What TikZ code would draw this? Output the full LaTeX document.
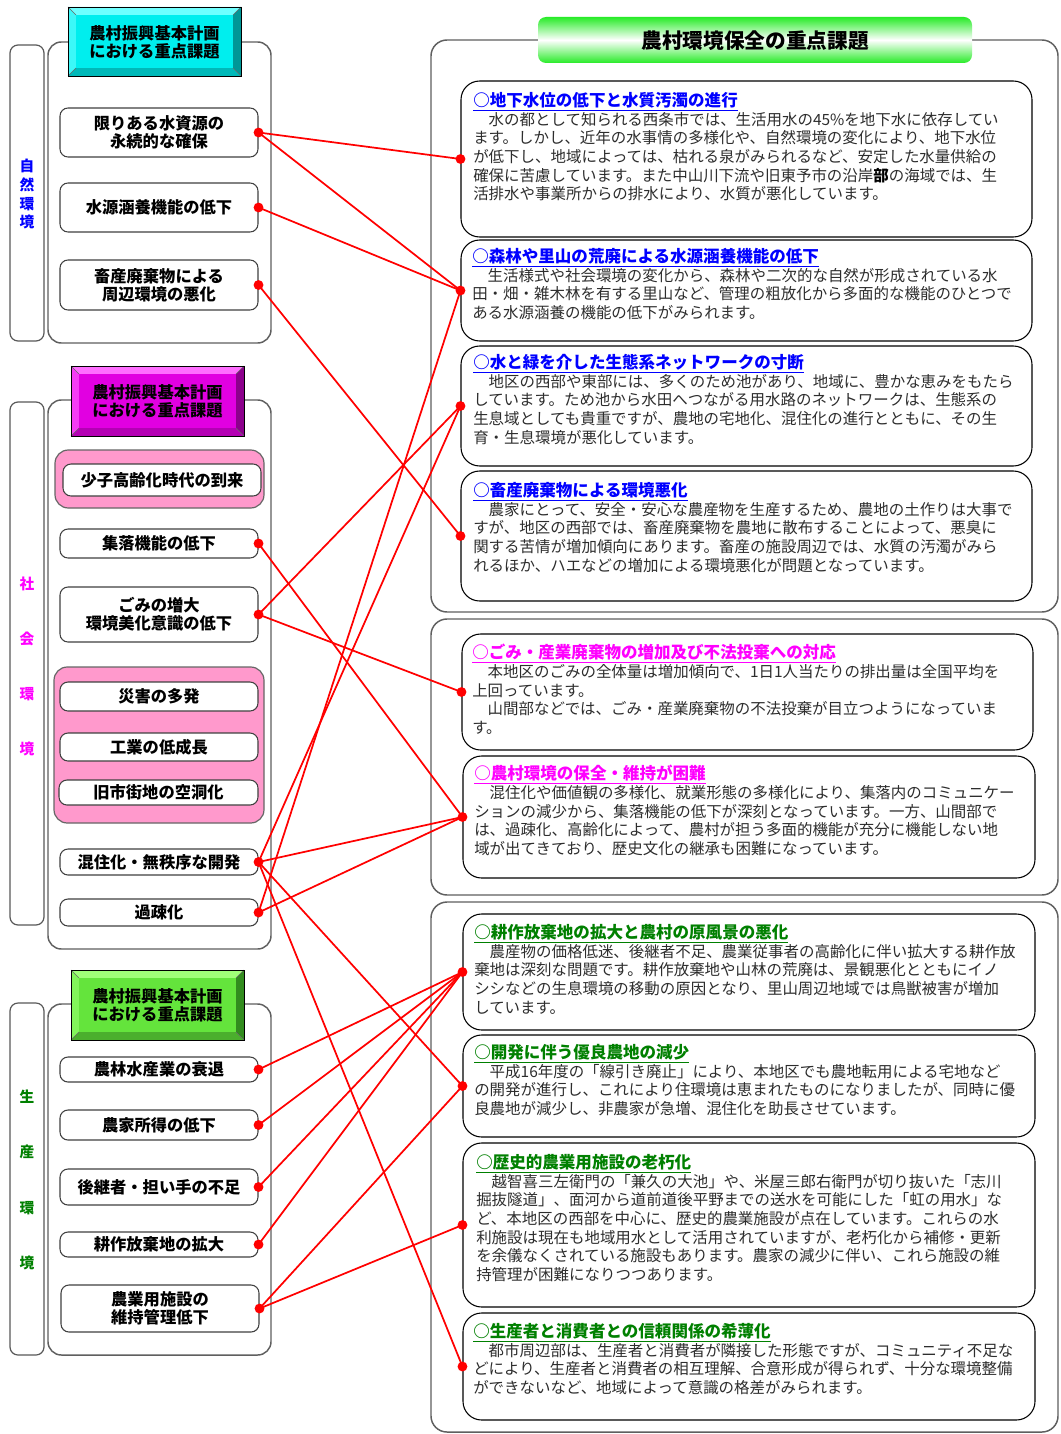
\documentclass[tikz,border=0pt]{standalone}
\usepackage{fontspec}
\setmainfont{Noto Sans CJK JP}
\usetikzlibrary{fit}
\definecolor{pinkc}{RGB}{255,153,204}
\definecolor{bodyc}{RGB}{45,45,45}
\definecolor{ttlblue}{RGB}{0,0,255}
\definecolor{ttlmag}{RGB}{255,0,255}
\definecolor{ttlgreen}{RGB}{0,128,0}
\definecolor{framec}{RGB}{95,95,95}
\definecolor{titleg}{RGB}{40,235,40}
% cyan bevel
\definecolor{cyF}{RGB}{0,238,238}
\definecolor{cyT}{RGB}{110,255,255}
\definecolor{cyL}{RGB}{60,248,248}
\definecolor{cyR}{RGB}{0,150,150}
\definecolor{cyB}{RGB}{0,185,185}
% magenta bevel
\definecolor{mgF}{RGB}{225,0,225}
\definecolor{mgT}{RGB}{255,110,255}
\definecolor{mgL}{RGB}{245,60,245}
\definecolor{mgR}{RGB}{140,0,140}
\definecolor{mgB}{RGB}{180,0,180}
% green bevel
\definecolor{grF}{RGB}{100,228,60}
\definecolor{grT}{RGB}{160,255,120}
\definecolor{grL}{RGB}{130,245,90}
\definecolor{grR}{RGB}{50,140,30}
\definecolor{grB}{RGB}{75,175,45}
\newcommand\mybevel[5]{%
 \fill[#5T] (#1,#2) -- (#3,#2) -- ({#3-8},{#2+8}) -- ({#1+8},{#2+8}) -- cycle;
 \fill[#5L] (#1,#2) -- ({#1+8},{#2+8}) -- ({#1+8},{#4-8}) -- (#1,#4) -- cycle;
 \fill[#5R] (#3,#2) -- (#3,#4) -- ({#3-8},{#4-8}) -- ({#3-8},{#2+8}) -- cycle;
 \fill[#5B] (#1,#4) -- (#3,#4) -- ({#3-8},{#4-8}) -- ({#1+8},{#4-8}) -- cycle;
 \fill[#5F] ({#1+8},{#2+8}) rectangle ({#3-8},{#4-8});
 \draw[black!60, line width=0.3pt] (#1,#2) -- ({#1+8},{#2+8}) (#3,#2) -- ({#3-8},{#2+8})
   (#1,#4) -- ({#1+8},{#4-8}) (#3,#4) -- ({#3-8},{#4-8});
 \draw[black, line width=0.6pt] (#1,#2) rectangle (#3,#4);
}
\newcommand\rtitle[2]{{\color{#1}\bfseries\fontsize{12.4}{14}\selectfont\underline{#2}}}
\begin{document}
\begin{tikzpicture}[x=0.75pt,y=-0.75pt,
  frame/.style={draw=framec, line width=1.1pt, rounded corners=10pt, fill=white, inner sep=0pt},
  vlab/.style={draw=black!65, line width=0.9pt, rounded corners=6pt, fill=white, inner sep=0pt},
  item/.style={draw=black!75, line width=0.8pt, rounded corners=6pt, fill=white, inner sep=0pt},
  itxt/.style={align=center, inner sep=0pt, font=\fontsize{12.2}{13.5}\selectfont\bfseries},
  pinkgrp/.style={draw=black!60, line width=0.9pt, rounded corners=10pt, fill=pinkc, inner sep=0pt},
  rbox/.style={draw=black, line width=0.8pt, rounded corners=14pt, fill=white, inner sep=0pt},
  rtext/.style={anchor=north west, inner sep=0pt, align=left, text=bodyc,
     font=\fontsize{11.6}{14}\selectfont},
  hdr/.style={align=center, inner sep=0pt, font=\fontsize{12.2}{13.5}\selectfont\bfseries},
  vtxt/.style={align=center, inner sep=0pt, font=\fontsize{11}{14.2}\selectfont\bfseries},
  conn/.style={draw=red, line width=1.3pt},
  dotc/.style={fill=red}
]
\useasboundingbox (0,0) rectangle (1060,1434);
\fill[white] (0,0) rectangle (1060,1434);

% ---------------- left column ----------------
% 自然環境
\node[vlab, fit={(10,45) (44,341)}] (V1) {};
\node[vtxt, text=ttlblue] (V1t) at (27,194) {自\\然\\環\\境};
\node[frame, fit={(48,42) (271,343)}] (F1) {};
\mybevel{68}{7}{241}{76}{cy}
\node[hdr] (H1) at (154.5,42) {農村振興基本計画\\における重点課題};
\node[item, fit={(60,108) (258,157)}] (L1) {};
\node[itxt] (L1t) at (L1.center) {限りある水資源の\\永続的な確保};
\node[item, fit={(60,183) (258,232)}] (L2) {};
\node[itxt] (L2t) at (L2.center) {水源涵養機能の低下};
\node[item, fit={(60,260) (258,310)}] (L3) {};
\node[itxt] (L3t) at (L3.center) {畜産廃棄物による\\周辺環境の悪化};

% 社会環境
\node[vlab, fit={(10,402) (44,925)}] (V2) {};
\node[vtxt, text=ttlmag, font=\fontsize{11}{41.25}\selectfont\bfseries] (V2t) at (27,666) {社\\会\\環\\境};
\node[frame, fit={(48,400) (271,949)}] (F2) {};
\mybevel{71}{366}{244}{436}{mg}
\node[hdr] (H2) at (157.5,401) {農村振興基本計画\\における重点課題};
\node[pinkgrp, fit={(55,450) (264,508)}] (P1) {};
\node[item, fit={(63,464) (261,496)}] (S1) {};
\node[itxt] (S1t) at (S1.center) {少子高齢化時代の到来};
\node[item, fit={(60,529) (258,558)}] (L4) {};
\node[itxt] (L4t) at (L4.center) {集落機能の低下};
\node[item, fit={(60,587) (258,642)}] (L5) {};
\node[itxt] (L5t) at (L5.center) {ごみの増大\\環境美化意識の低下};
\node[pinkgrp, fit={(54,667) (264,823)}] (P2) {};
\node[item, fit={(60,682) (258,711)}] (S2) {};
\node[itxt] (S2t) at (S2.center) {災害の多発};
\node[item, fit={(60,733) (258,761)}] (S3) {};
\node[itxt] (S3t) at (S3.center) {工業の低成長};
\node[item, fit={(59,780) (258,805)}] (S4) {};
\node[itxt] (S4t) at (S4.center) {旧市街地の空洞化};
\node[item, fit={(60,849) (258,875)}] (L6) {};
\node[itxt] (L6t) at (L6.center) {混住化・無秩序な開発};
\node[item, fit={(60,899) (258,926)}] (L7) {};
\node[itxt] (L7t) at (L7.center) {過疎化};

% 生産環境
\node[vlab, fit={(10,1003) (44,1355)}] (V3) {};
\node[vtxt, text=ttlgreen, font=\fontsize{11}{41.5}\selectfont\bfseries] (V3t) at (27,1180) {生\\産\\環\\境};
\node[frame, fit={(48,1004) (271,1355)}] (F3) {};
\mybevel{71}{970}{244}{1040}{gr}
\node[hdr] (H3) at (157.5,1005) {農村振興基本計画\\における重点課題};
\node[item, fit={(60,1057) (258,1082)}] (L8) {};
\node[itxt] (L8t) at (L8.center) {農林水産業の衰退};
\node[item, fit={(60,1110) (258,1140)}] (L9) {};
\node[itxt] (L9t) at (L9.center) {農家所得の低下};
\node[item, fit={(60,1169) (258,1205)}] (L10) {};
\node[itxt] (L10t) at (L10.center) {後継者・担い手の不足};
\node[item, fit={(60,1232) (258,1257)}] (L11) {};
\node[itxt] (L11t) at (L11.center) {耕作放棄地の拡大};
\node[item, fit={(61,1285) (259,1332)}] (L12) {};
\node[itxt] (L12t) at (L12.center) {農業用施設の\\維持管理低下};

% ---------------- right column ----------------
\node[frame, rounded corners=12pt, fit={(431,40) (1058,612)}] (RF1) {};
\node[frame, rounded corners=12pt, fit={(431,619) (1058,895)}] (RF2) {};
\node[frame, rounded corners=12pt, fit={(431,902) (1058,1432)}] (RF3) {};
\shade[top color=titleg, bottom color=titleg, middle color=white, rounded corners=6pt]
  (538,17) rectangle (972,63);
\node[inner sep=0pt, font=\fontsize{15.5}{17}\selectfont\bfseries] (T) at (755,41) {農村環境保全の重点課題};

\node[rbox, fit={(461,81) (1032,237)}] (R1) {};
\node[rtext] (R1t) at (473,92) {\rtitle{ttlblue}{○地下水位の低下と水質汚濁の進行}\\
　水の都として知られる西条市では、生活用水の45\%を地下水に依存してい\\
ます。しかし、近年の水事情の多様化や、自然環境の変化により、地下水位\\
が低下し、地域によっては、枯れる泉がみられるなど、安定した水量供給の\\
確保に苦慮しています。また中山川下流や旧東予市の沿岸{\color{black}\bfseries 部}の海域では、生\\
活排水や事業所からの排水により、水質が悪化しています。};

\node[rbox, fit={(461,240) (1032,341)}] (R2) {};
\node[rtext] (R2t) at (472,248) {\rtitle{ttlblue}{○森林や里山の荒廃による水源涵養機能の低下}\\
　生活様式や社会環境の変化から、森林や二次的な自然が形成されている水\\
田・畑・雑木林を有する里山など、管理の粗放化から多面的な機能のひとつで\\
ある水源涵養の機能の低下がみられます。};

\node[rbox, fit={(461,346) (1032,466)}] (R3) {};
\node[rtext] (R3t) at (473,354) {\rtitle{ttlblue}{○水と緑を介した生態系ネットワークの寸断}\\
　地区の西部や東部には、多くのため池があり、地域に、豊かな恵みをもたら\\
しています。ため池から水田へつながる用水路のネットワークは、生態系の\\
生息域としても貴重ですが、農地の宅地化、混住化の進行とともに、その生\\
育・生息環境が悪化しています。};

\node[rbox, fit={(461,471) (1032,601)}] (R4) {};
\node[rtext] (R4t) at (473,482) {\rtitle{ttlblue}{○畜産廃棄物による環境悪化}\\
　農家にとって、安全・安心な農産物を生産するため、農地の土作りは大事で\\
すが、地区の西部では、畜産廃棄物を農地に散布することによって、悪臭に\\
関する苦情が増加傾向にあります。畜産の施設周辺では、水質の汚濁がみら\\
れるほか、ハエなどの増加による環境悪化が問題となっています。};

\node[rbox, fit={(462,634) (1033,750)}] (R5) {};
\node[rtext] (R5t) at (472,644) {\rtitle{ttlmag}{○ごみ・産業廃棄物の増加及び不法投棄への対応}\\
　本地区のごみの全体量は増加傾向で、1日1人当たりの排出量は全国平均を\\
上回っています。\\
　山間部などでは、ごみ・産業廃棄物の不法投棄が目立つようになっていま\\
す。};

\node[rbox, fit={(463,756) (1035,878)}] (R6) {};
\node[rtext] (R6t) at (474,765) {\rtitle{ttlmag}{○農村環境の保全・維持が困難}\\
　混住化や価値観の多様化、就業形態の多様化により、集落内のコミュニケー\\
ションの減少から、集落機能の低下が深刻となっています。一方、山間部で\\
は、過疎化、高齢化によって、農村が担う多面的機能が充分に機能しない地\\
域が出てきており、歴史文化の継承も困難になっています。};

\node[rbox, fit={(463,914) (1035,1030)}] (R7) {};
\node[rtext] (R7t) at (474,924) {\rtitle{ttlgreen}{○耕作放棄地の拡大と農村の原風景の悪化}\\
　農産物の価格低迷、後継者不足、農業従事者の高齢化に伴い拡大する耕作放\\
棄地は深刻な問題です。耕作放棄地や山林の荒廃は、景観悪化とともにイノ\\
シシなどの生息環境の移動の原因となり、里山周辺地域では鳥獣被害が増加\\
しています。};

\node[rbox, fit={(463,1035) (1035,1137)}] (R8) {};
\node[rtext] (R8t) at (474,1044) {\rtitle{ttlgreen}{○開発に伴う優良農地の減少}\\
　平成16年度の「線引き廃止」により、本地区でも農地転用による宅地など\\
の開発が進行し、これにより住環境は恵まれたものになりましたが、同時に優\\
良農地が減少し、非農家が急増、混住化を助長させています。};

\node[rbox, fit={(463,1143) (1035,1307)}] (R9) {};
\node[rtext] (R9t) at (476,1154) {\rtitle{ttlgreen}{○歴史的農業用施設の老朽化}\\
　越智喜三左衛門の「兼久の大池」や、米屋三郎右衛門が切り抜いた「志川\\
掘抜隧道」、面河から道前道後平野までの送水を可能にした「虹の用水」な\\
ど、本地区の西部を中心に、歴史的農業施設が点在しています。これらの水\\
利施設は現在も地域用水として活用されていますが、老朽化から補修・更新\\
を余儀なくされている施設もあります。農家の減少に伴い、これら施設の維\\
持管理が困難になりつつあります。};

\node[rbox, fit={(463,1313) (1035,1420)}] (R10) {};
\node[rtext] (R10t) at (473,1323) {\rtitle{ttlgreen}{○生産者と消費者との信頼関係の希薄化}\\
　都市周辺部は、生産者と消費者が隣接した形態ですが、コミュニティ不足な\\
どにより、生産者と消費者の相互理解、合意形成が得られず、十分な環境整備\\
ができないなど、地域によって意識の格差がみられます。};

% ---------------- connectors ----------------
\draw[conn] (L1.east) -- (R1.west);
\draw[conn] (L1.east) -- (R2.west);
\draw[conn] (L2.east) -- (R2.west);
\draw[conn] (L3.east) -- (R4.west);
\draw[conn] (L7.east) -- (R2.west);
\draw[conn] (L5.east) -- (R3.west);
\draw[conn] (L6.east) -- (R3.west);
\draw[conn] (L4.east) -- (R6.west);
\draw[conn] (L5.east) -- (R5.west);
\draw[conn] (L6.east) -- (R6.west);
\draw[conn] (L7.east) -- (R6.west);
\draw[conn] (L6.east) -- (R8.west);
\draw[conn] (L6.east) -- (R10.west);
\draw[conn] (L8.east) -- (R7.west);
\draw[conn] (L9.east) -- (R7.west);
\draw[conn] (L10.east) -- (R7.west);
\draw[conn] (L11.east) -- (R7.west);
\draw[conn] (L12.east) -- (R8.west);
\draw[conn] (L12.east) -- (R9.west);

\foreach \n in {L1,L2,L3,L4,L5,L6,L7,L8,L9,L10,L11,L12}
  \fill[dotc] (\n.east) circle (3.7pt);
\foreach \n in {R1,R2,R3,R4,R5,R6,R7,R8,R9,R10}
  \fill[dotc] (\n.west) circle (3.7pt);
\end{tikzpicture}
\end{document}
